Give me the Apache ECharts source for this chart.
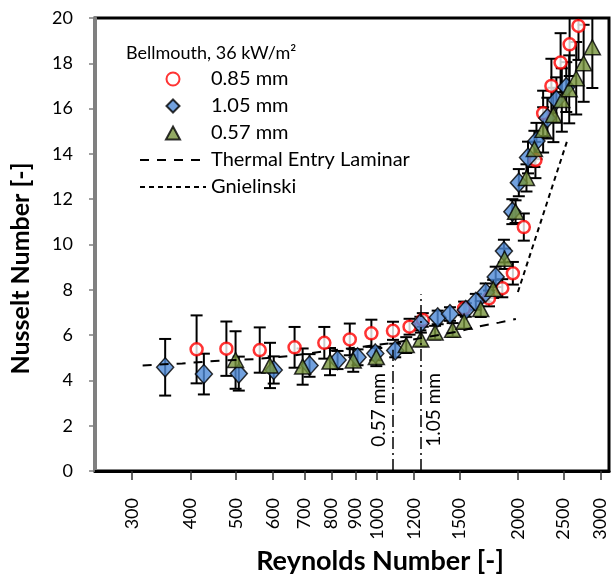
<!DOCTYPE html>
<html>
<head>
<meta charset="utf-8">
<script src="https://cdn.jsdelivr.net/npm/echarts@6.0.0/dist/echarts.min.js"></script>
<style>
  html, body { margin: 0; padding: 0; background: #fff; }
  #chart { width: 611px; height: 581px; }
</style>
</head>
<body>
<div id="chart"></div>
<script>
// x ticks on the log Reynolds axis
const reTicks = [300, 400, 500, 600, 700, 800, 900, 1000, 1200, 1500, 2000, 2500, 3000];

// 0.85 mm
const redRe = [412, 477, 562, 667, 772, 875, 973, 1082, 1174, 1253, 1535, 1735, 1852, 1951, 2059, 2180, 2264, 2358, 2467, 2579, 2694];
const redNu = [5.37, 5.40, 5.34, 5.46, 5.66, 5.81, 6.08, 6.19, 6.37, 6.67, 7.18, 7.62, 8.07, 8.73, 10.77, 13.73, 15.79, 17.0, 18.03, 18.84, 19.65];
const redErr = [1.5, 1.2, 1.0, 0.9, 0.7, 0.7, 0.6, 0.4, 0.35, 0.3, 0.3, 0.35, 0.4, 0.5, 0.6, 0.8, 1.0, 1.2, 1.3, 1.4, 1.5];

// 1.05 mm
const blueRe = [353, 427, 507, 602, 718, 824, 909, 992, 1094, 1238, 1348, 1432, 1548, 1626, 1707, 1793, 1867, 1946, 2009, 2102, 2191, 2312, 2416, 2537];
const blueNu = [4.58, 4.28, 4.30, 4.46, 4.66, 4.90, 5.02, 5.19, 5.32, 6.51, 6.78, 6.93, 7.11, 7.47, 7.88, 8.57, 9.71, 11.45, 12.73, 13.84, 14.57, 15.58, 16.38, 16.95];
const blueErr = [1.25, 0.9, 0.75, 0.6, 0.5, 0.4, 0.35, 0.3, 0.3, 0.3, 0.3, 0.3, 0.3, 0.35, 0.4, 0.45, 0.5, 0.55, 0.6, 0.7, 0.8, 0.9, 1.0, 1.1];

// 0.57 mm
const greenRe = [499, 591, 694, 794, 890, 997, 1155, 1241, 1331, 1451, 1535, 1666, 1771, 1873, 1977, 2086, 2169, 2264, 2381, 2482, 2574, 2664, 2763, 2884];
const greenNu = [4.90, 4.66, 4.61, 4.83, 4.88, 5.03, 5.56, 5.81, 6.11, 6.23, 6.59, 7.15, 8.04, 9.37, 11.45, 12.94, 14.22, 15.06, 15.72, 16.38, 16.85, 17.34, 18.0, 18.71];
const greenErr = [1.27, 1.0, 0.8, 0.6, 0.5, 0.4, 0.35, 0.3, 0.3, 0.3, 0.3, 0.35, 0.4, 0.45, 0.5, 0.6, 0.8, 1.0, 1.2, 1.4, 1.5, 1.6, 1.7, 1.8];

// correlations
const lamRe = [316, 384, 460, 546, 653, 781, 934, 1089, 1250, 1487, 1640, 1822, 1980];
const lamNu = [4.66, 4.75, 4.87, 4.94, 5.08, 5.30, 5.49, 5.66, 5.88, 6.15, 6.37, 6.55, 6.71];
const gnRe = [2000, 2550];
const gnNu = [7.9, 14.6];

// transition markers: Re, top of line
const transRe = [1080, 1240];
const transTop = [5.35, 7.8];
const transLabels = ['0.57 mm', '1.05 mm'];

const FONT = 'Lato, "Open Sans", sans-serif';

const chart = echarts.init(document.getElementById('chart'));

function pts(xs, ys) {
  return xs.map((x, i) => [x, ys[i]]);
}
function bars(xs, ys, es) {
  return xs.map((x, i) => [x, ys[i] - es[i], ys[i] + es[i]]);
}

// error bars with caps
function renderErr(params, api) {
  const x = api.value(0);
  const lo = api.coord([x, api.value(1)]);
  const hi = api.coord([x, api.value(2)]);
  const cap = 6;
  const st = { stroke: '#000', lineWidth: 2 };
  return {
    type: 'group',
    children: [
      { type: 'line', shape: { x1: lo[0], y1: lo[1], x2: hi[0], y2: hi[1] }, style: st },
      { type: 'line', shape: { x1: lo[0] - cap, y1: lo[1], x2: lo[0] + cap, y2: lo[1] }, style: st },
      { type: 'line', shape: { x1: hi[0] - cap, y1: hi[1], x2: hi[0] + cap, y2: hi[1] }, style: st }
    ]
  };
}

function errSeries(xs, ys, es) {
  return {
    type: 'custom',
    renderItem: renderErr,
    clip: true,
    silent: true,
    encode: { x: 0, y: [1, 2] },
    data: bars(xs, ys, es)
  };
}

// legend icons that keep their aspect
const ICON_CIRCLE = 'path://M-1,0A1,1 0 1,0 1,0A1,1 0 1,0 -1,0Z';
const ICON_DIAMOND = 'path://M0,-1L1,0L0,1L-1,0Z';
const ICON_TRIANGLE = 'path://M0,-1L1,0.85L-1,0.85Z';

const option = {
  animation: false,
  textStyle: { fontFamily: FONT },
  title: {
    text: 'Bellmouth, 36 kW/m²',
    left: 121,
    top: 39,
    textStyle: { fontFamily: FONT, fontSize: 18, fontWeight: 'normal', color: '#000' }
  },
  legend: {
    orient: 'vertical',
    left: 134,
    top: 64,
    itemWidth: 66,
    itemHeight: 13,
    itemGap: 7,
    symbolKeepAspect: true,
    selectedMode: false,
    textStyle: { fontFamily: FONT, fontSize: 20, color: '#000', lineHeight: 20 },
    data: [
      { name: '0.85 mm', icon: ICON_CIRCLE },
      { name: '1.05 mm', icon: ICON_DIAMOND },
      { name: '0.57 mm', icon: ICON_TRIANGLE },
      { name: 'Thermal Entry Laminar', itemStyle: { opacity: 0 } },
      { name: 'Gnielinski', itemStyle: { opacity: 0 } }
    ]
  },
  grid: {
    left: 93,
    right: 2,
    top: 18,
    bottom: 110,
    show: true,
    borderColor: '#000',
    borderWidth: 3
  },
  xAxis: {
    type: 'log',
    logBase: 10,
    min: 250,
    max: 3130,
    name: 'Reynolds Number [-]',
    nameLocation: 'middle',
    nameGap: 77,
    nameTextStyle: {
      fontFamily: FONT, fontSize: 27, fontWeight: 'bold', color: '#000',
      padding: [0, 0, 0, 56]
    },
    axisLine: { show: true, lineStyle: { color: '#000', width: 3 } },
    axisTick: { show: true, length: 9, customValues: reTicks, lineStyle: { color: '#333', width: 1.5 } },
    minorTick: { show: false },
    axisLabel: {
      customValues: reTicks,
      formatter: v => String(Math.round(v)),
      rotate: 90,
      margin: 27,
      fontFamily: FONT,
      fontSize: 18,
      color: '#000'
    },
    splitLine: { show: false }
  },
  yAxis: {
    type: 'value',
    min: 0,
    max: 20,
    interval: 2,
    name: 'Nusselt Number [-]',
    nameLocation: 'middle',
    nameGap: 62,
    nameTextStyle: {
      fontFamily: FONT, fontSize: 25, fontWeight: 'bold', color: '#000',
      padding: [0, 48, 0, 0]
    },
    axisLine: { show: true, lineStyle: { color: '#808080', width: 3 } },
    axisTick: { show: true, length: 6, lineStyle: { color: '#808080', width: 1.5 } },
    axisLabel: { margin: 22, fontFamily: FONT, fontSize: 18, color: '#000' },
    splitLine: { show: false }
  },
  series: [
    {
      name: 'Thermal Entry Laminar',
      type: 'line',
      symbol: 'none',
      lineStyle: { color: '#000', width: 2, type: [9, 8] },
      itemStyle: { color: '#000' },
      data: pts(lamRe, lamNu)
    },
    {
      name: 'Gnielinski',
      type: 'line',
      symbol: 'none',
      lineStyle: { color: '#000', width: 2, type: [5, 4] },
      itemStyle: { color: '#000' },
      data: pts(gnRe, gnNu)
    },
    {
      name: 'transition',
      type: 'line',
      data: [],
      markLine: {
        silent: true,
        symbol: ['none', 'none'],
        lineStyle: { color: '#000', width: 1.5, type: [12, 4, 2, 4] },
        label: { fontFamily: FONT, fontSize: 19, color: '#000' },
        data: transRe.flatMap((re, i) => [
          [{ coord: [re, 0], label: { show: false } }, { coord: [re, transTop[i]] }],
          [
            {
              coord: [re, 0],
              lineStyle: { color: 'rgba(0,0,0,0)' },
              label: {
                show: true,
                formatter: transLabels[i],
                position: i === 0 ? 'insideMiddleTop' : 'insideMiddleBottom',
                distance: 4
              }
            },
            { coord: [re, 5.4] }
          ]
        ])
      }
    },
    errSeries(redRe, redNu, redErr),
    {
      name: '0.85 mm',
      type: 'scatter',
      symbol: 'circle',
      symbolSize: 12,
      itemStyle: { color: '#fff', borderColor: '#ff0000', borderWidth: 2.5 },
      data: pts(redRe, redNu)
    },
    errSeries(blueRe, blueNu, blueErr),
    {
      name: '1.05 mm',
      type: 'scatter',
      symbol: 'diamond',
      symbolSize: [17, 19],
      itemStyle: { color: '#4f8ad6', borderColor: '#000', borderWidth: 1.5 },
      data: pts(blueRe, blueNu)
    },
    errSeries(greenRe, greenNu, greenErr),
    {
      name: '0.57 mm',
      type: 'scatter',
      symbol: 'triangle',
      symbolSize: [16, 15],
      itemStyle: { color: '#77933c', borderColor: '#000', borderWidth: 1.5 },
      data: pts(greenRe, greenNu)
    }
  ]
};

chart.setOption(option);
</script>
</body>
</html>
